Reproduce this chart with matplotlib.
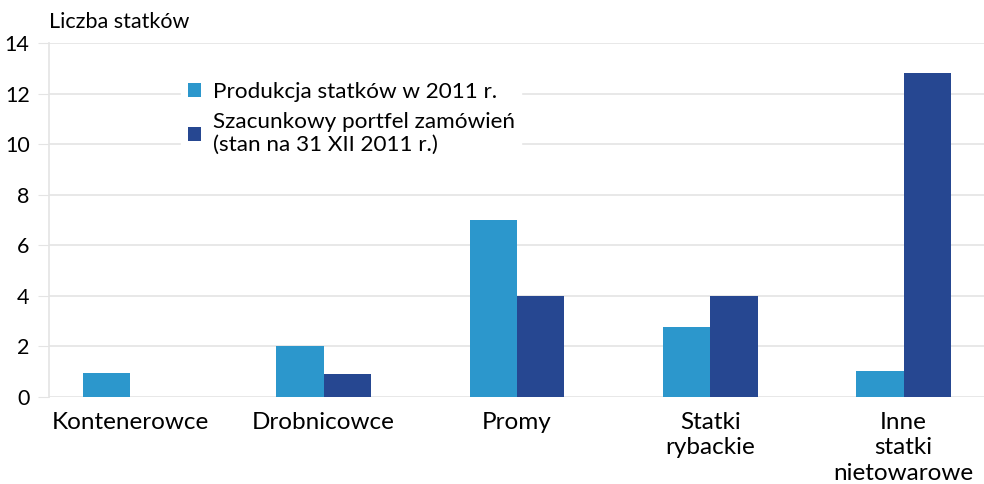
import matplotlib.pyplot as plt
import numpy as np

plt.rcParams['font.family'] = ['Lato', 'DejaVu Sans']

categories = ['Kontenerowce', 'Drobnicowce', 'Promy', 'Statki\nrybackie', 'Inne\nstatki\nnietowarowe']
produkcja = [0.95, 2.0, 7.0, 2.75, 1.03]
portfel = [0.0, 0.9, 4.0, 4.0, 12.8]

light = '#2c97cc'
dark = '#264791'
grid = '#e4e4e4'

fig = plt.figure(figsize=(9.84, 4.84), dpi=100)
ax = fig.add_axes([0.0498, 0.180, 0.952, 0.731])

x = np.arange(len(categories))
w = 0.245
ax.bar(x - w / 2, produkcja, w, color=light, label='Produkcja statków w 2011 r.', zorder=2)
ax.bar(x + w / 2, portfel, w, color=dark,
       label='Szacunkowy portfel zamówień\n(stan na 31 XII 2011 r.)', zorder=2)

ax.set_ylim(0, 14)
ax.set_yticks(range(0, 15, 2))
ax.set_xlim(-0.42, 4.425)
ax.set_xticks(x)
ax.set_xticklabels(categories, fontsize=17.5, linespacing=1.25)
ax.tick_params(axis='x', length=0, pad=11)
ax.tick_params(axis='y', length=8, color=grid, labelsize=15.5, pad=6)
ax.grid(axis='y', color=grid, linewidth=1.2, zorder=0)
for s in ['top', 'right', 'bottom']:
    ax.spines[s].set_visible(False)
ax.spines['left'].set_color(grid)
ax.spines['left'].set_linewidth(1.2)

ax.text(0.0, 1.03, 'Liczba statków', transform=ax.transAxes, fontsize=15.5, va='bottom')

leg = ax.legend(loc='upper left', bbox_to_anchor=(0.129, 0.941), fontsize=16.2,
                frameon=True, fancybox=False, edgecolor='white', framealpha=1,
                handlelength=0.6, handleheight=0.6, handletextpad=0.5,
                labelspacing=0.45, borderpad=0.3)

fig.savefig('out.png', dpi=100)
